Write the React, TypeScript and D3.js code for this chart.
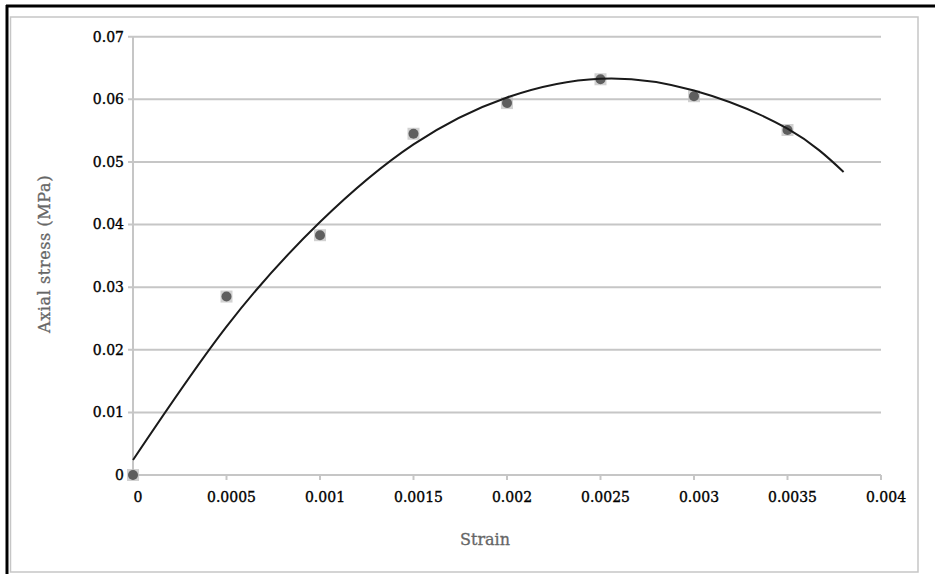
import React from 'react';
import * as d3 from 'd3';

// measured points
const strain = [0, 0.0005, 0.001, 0.0015, 0.002, 0.0025, 0.003, 0.0035];
const stress = [0, 0.0285, 0.0383, 0.0545, 0.0594, 0.0632, 0.0605, 0.0551];

// trend line
const trendStrain = [0, 0.0005, 0.001, 0.0015, 0.002, 0.0025, 0.003, 0.0035, 0.0038];
const trendStress = [0.0024, 0.0237, 0.0404, 0.0528, 0.0603, 0.0633, 0.0614, 0.0553, 0.0484];

const xTicks = [0, 0.0005, 0.001, 0.0015, 0.002, 0.0025, 0.003, 0.0035, 0.004];
const xTickLabels = ['0', '0.0005', '0.001', '0.0015', '0.002', '0.0025', '0.003', '0.0035', '0.004'];
const yTicks = [0, 0.01, 0.02, 0.03, 0.04, 0.05, 0.06, 0.07];
const yTickLabels = ['0', '0.01', '0.02', '0.03', '0.04', '0.05', '0.06', '0.07'];

const W = 935;
const H = 574;

export default function App() {
  const x = d3.scaleLinear().domain([0, 0.004]).range([133, 881]);
  const y = d3.scaleLinear().domain([0, 0.07]).range([475, 36.7]);

  const trend = d3.line<number>()
    .x((d, i) => x(trendStrain[i]))
    .y(d => y(d))
    .curve(d3.curveNatural);

  const grid = '#c6c6c6';
  const tickFont = 'DejaVu Serif, serif';

  return (
    <svg width={W} height={H} style={{ position: 'absolute', left: 0, top: 0, background: '#fff' }}>
      {/* outer frame */}
      <line x1={6} x2={W} y1={6} y2={6} stroke="#000" strokeWidth={3} />
      <line x1={7} x2={7} y1={5} y2={H} stroke="#000" strokeWidth={3} />
      <rect x={10.5} y={17} width={907.5} height={555} fill="none" stroke={grid} strokeWidth={1.5} />

      {/* horizontal grid */}
      {yTicks.map(t => (
        <line key={'g' + t} x1={128} x2={881} y1={y(t)} y2={y(t)} stroke={grid} strokeWidth={2} />
      ))}
      {/* y axis line */}
      <line x1={133} x2={133} y1={y(0.07)} y2={y(0)} stroke={grid} strokeWidth={2} />
      {/* x ticks */}
      {xTicks.map(t => (
        <line key={'xt' + t} x1={x(t)} x2={x(t)} y1={y(0)} y2={y(0) + 5} stroke={grid} strokeWidth={2} />
      ))}

      {/* tick labels */}
      {yTicks.map((t, i) => (
        <text key={'yl' + t} x={124} y={y(t)} dy="0.35em" textAnchor="end" fontFamily={tickFont} fontSize={14}
          fill="#000" stroke="#000" strokeWidth={0.35}>
          {yTickLabels[i]}
        </text>
      ))}
      {xTicks.map((t, i) => (
        <text key={'xl' + t} x={x(t) + 5} y={502} textAnchor="middle" fontFamily={tickFont} fontSize={14}
          fill="#000" stroke="#000" strokeWidth={0.35}>
          {xTickLabels[i]}
        </text>
      ))}

      {/* axis titles */}
      <text x={485} y={545} textAnchor="middle" fontFamily={tickFont} fontSize={16} fill="#666"
        stroke="#666" strokeWidth={0.3}>Strain</text>
      <text transform="translate(50,254) rotate(-90)" textAnchor="middle" fontFamily={tickFont} fontSize={16}
        letterSpacing={0.6} fill="#666" stroke="#666" strokeWidth={0.3}>
        Axial stress (MPa)
      </text>

      {/* markers */}
      {strain.map((s, i) => (
        <g key={'p' + i}>
          <rect x={x(s) - 6} y={y(stress[i]) - 6} width={12} height={12} fill="#bdbdbd" opacity={0.7} />
          <circle cx={x(s)} cy={y(stress[i])} r={5} fill="#5e5e5e" />
        </g>
      ))}

      {/* trend line */}
      <path d={trend(trendStress) || ''} fill="none" stroke="#1a1a1a" strokeWidth={2} />
    </svg>
  );
}
